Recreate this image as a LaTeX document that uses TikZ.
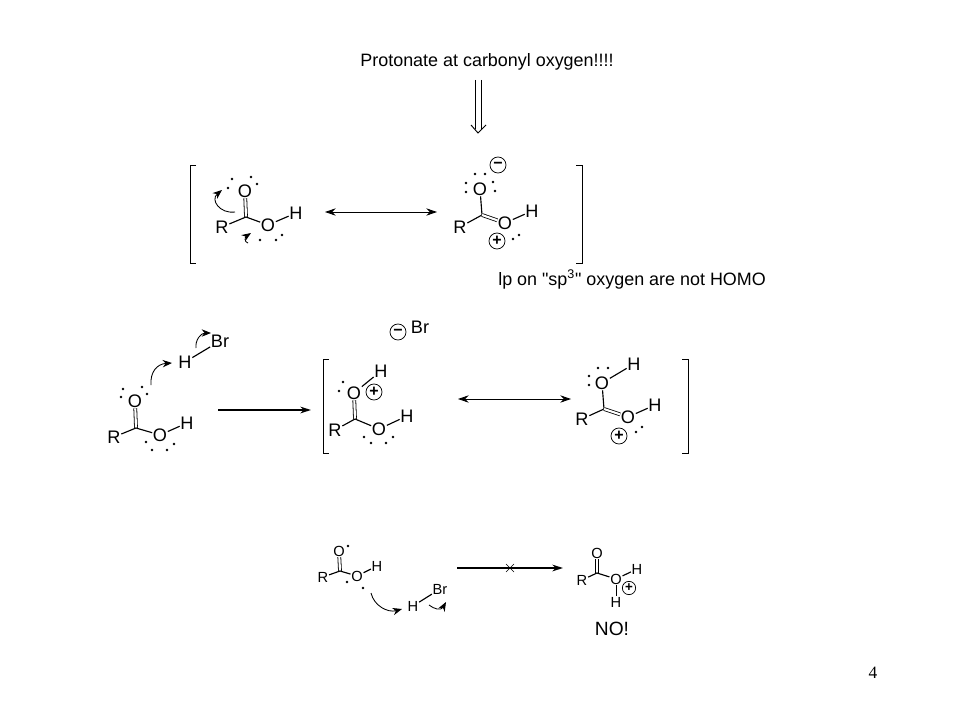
\documentclass[tikz,border=0pt]{standalone}
\usepackage{fontspec}
\setmainfont{Liberation Sans}
\newfontfamily\plainf{Liberation Sans}
\newfontfamily\numfont{Liberation Serif}
\usetikzlibrary{arrows.meta}
\tikzset{
  x=0.75pt,y=-0.75pt,
  atom/.style={font=\fontsize{13.6}{14}\selectfont,inner sep=0.4pt,text height=9.7pt,text depth=0pt},
  atomsm/.style={font=\fontsize{11}{12}\selectfont,inner sep=0.4pt,text height=7.9pt,text depth=0pt},
  bond/.style={line width=0.85pt,black},
  dbl/.style={line width=0.6pt,double,double distance=1.6pt,black},
  bracket/.style={line width=0.7pt,black},
  curly/.style={line width=0.65pt,black,-{Stealth[length=7pt,width=5.5pt]}},
  resarrow/.style={line width=0.7pt,black,{Stealth[length=8pt,width=5.5pt]}-{Stealth[length=8pt,width=5.5pt]}},
  rxnarrow/.style={line width=1.2pt,black,-{Stealth[length=8pt,width=5pt]}},
  charge/.style={draw,circle,line width=0.55pt,minimum size=12pt,inner sep=0pt,font=\fontsize{12}{12}\selectfont\bfseries},
  chargesm/.style={draw,circle,line width=0.55pt,minimum size=10pt,inner sep=0pt,font=\fontsize{10}{10}\selectfont\bfseries},
  label/.style={font=\plainf\fontsize{13.45}{15}\selectfont,inner sep=0pt},
  biglabel/.style={font=\plainf\fontsize{14.4}{16}\selectfont,inner sep=0pt},
}
\newcommand{\lpdots}[1]{\foreach \p in {#1}{\fill[black] \p circle (0.95pt);}}
\begin{document}
\begin{tikzpicture}
\useasboundingbox (0,0) rectangle (960,720);
\fill[white] (0,0) rectangle (960,720);

% title and hollow arrow
\node[label] (title) at (487,62) {Protonate at carbonyl oxygen!!!!};
\coordinate (hl1) at (475,80);
\coordinate (hl2) at (475,129);
\coordinate (hr1) at (481,80);
\coordinate (hr2) at (481,129);
\coordinate (htip) at (478,133);
\coordinate (hwl) at (471,125);
\coordinate (hwr) at (486,125);
\draw[line width=0.7pt] (hl1) -- (hl2);
\draw[line width=0.7pt] (hr1) -- (hr2);
\draw[line width=0.7pt] (hwl) -- (htip) -- (hwr);

% row 1 brackets
\draw[bracket] (196,165) -- (190,165) -- (190,263) -- (196,263);
\draw[bracket] (576,165) -- (582,165) -- (582,263) -- (576,263);

% mol A
\coordinate (ac) at (246,217);
\node[atom] (ao) at (245,191) {O};
\node[atom] (ar) at (222,227) {R};
\node[atom] (ao2) at (268,225) {O};
\node[atom] (ah) at (296,213) {H};
\draw[dbl] (ao) -- (ac);
\draw[bond] (ar) -- (ac);
\draw[bond] (ac) -- (ao2);
\draw[bond] (ao2) -- (ah);
\lpdots{(228,188),(232,179),(251,177),(257,184),(260,240),(276,240),(282,235)}
\coordinate (aa1) at (235,212);
\coordinate (aa2) at (222,190);
\draw[curly] (aa1) .. controls (220,214) and (210,200) .. (aa2);
\coordinate (aa3) at (248,243);
\coordinate (aa4) at (251,233);
\draw[curly] (aa3) .. controls (244,242) and (245,237) .. (aa4);

\draw[resarrow] (325,212) -- (437,212);

% mol B
\coordinate (bc) at (482,215);
\node[atom] (bo) at (480,189) {O};
\node[atom] (br) at (460,227) {R};
\node[atom] (bo2) at (505,223) {O};
\node[atom] (bh) at (532,211) {H};
\node[charge] (bm) at (498,165) {−};
\node[charge] (bp) at (497,241) {+};
\draw[bond] (bo) -- (bc);
\draw[bond] (br) -- (bc);
\draw[dbl] (bc) -- (bo2);
\draw[bond] (bo2) -- (bh);
\lpdots{(475,174),(485,174),(493,182),(495,191),(466,183),(466,192),(513,239),(519,235)}

\node[label,anchor=west] (lp) at (498,279) {lp on "sp\textsuperscript{3}" oxygen are not HOMO};

% row 2 left
\coordinate (dc) at (136,428);
\node[atom] (do) at (135,401) {O};
\node[atom] (dr) at (114,437) {R};
\node[atom] (do2) at (160,435) {O};
\node[atom] (dh) at (187,423) {H};
\node[atom] (dh1) at (185,362) {H};
\node[atom] (dbr) at (220,341) {Br};
\draw[dbl] (do) -- (dc);
\draw[bond] (dr) -- (dc);
\draw[bond] (dc) -- (do2);
\draw[bond] (do2) -- (dh);
\draw[bond] (dh1) -- (dbr);
\lpdots{(123,389),(121,397),(142,387),(147,394),(146,442),(152,450),(167,450),(174,444)}
\coordinate (da1) at (151,385);
\coordinate (da2) at (172,363);
\draw[curly] (da1) .. controls (150,372) and (157,364) .. (da2);
\coordinate (da3) at (196,348);
\coordinate (da4) at (211,333);
\draw[curly] (da3) .. controls (195,340) and (201,333) .. (da4);

\coordinate (ra1) at (218,410);
\coordinate (ra2) at (311,410);
\draw[rxnarrow] (ra1) -- (ra2);

\node[charge] (em) at (398,332) {−};
\node[atom] (ebr) at (420,327) {Br};

% row 2 brackets
\draw[bracket] (329,359) -- (323,359) -- (323,453) -- (329,453);
\draw[bracket] (682,359) -- (688,359) -- (688,453) -- (682,453);

% mol C
\coordinate (cc) at (355,419);
\node[atom] (co) at (354,393) {O};
\node[atom] (ch) at (381,371) {H};
\node[charge] (cp) at (374,392) {+};
\node[atom] (cr) at (335,430) {R};
\node[atom] (co2) at (379,429) {O};
\node[atom] (ch2) at (407,416) {H};
\draw[dbl] (co) -- (cc);
\draw[bond] (co) -- (ch);
\draw[bond] (cr) -- (cc);
\draw[bond] (cc) -- (co2);
\draw[bond] (co2) -- (ch2);
\lpdots{(343,382),(339,391),(364,437),(371,443),(386,443),(393,437)}

\draw[resarrow] (458,399) -- (571,399);

% mol D
\coordinate (fc) at (604,409);
\node[atom] (fo) at (602,383) {O};
\node[atom] (fh) at (634,364) {H};
\node[atom] (fr) at (582,419) {R};
\node[atom] (fo2) at (628,417) {O};
\node[atom] (fh2) at (655,405) {H};
\node[charge] (fp) at (619,436) {+};
\draw[bond] (fo) -- (fc);
\draw[bond] (fo) -- (fh);
\draw[bond] (fr) -- (fc);
\draw[dbl] (fc) -- (fo2);
\draw[bond] (fo2) -- (fh2);
\lpdots{(598,368),(608,368),(589,376),(589,385),(636,432),(642,427)}

% row 3 left
\coordinate (gc) at (340,571);
\node[atomsm] (go) at (339,551) {O};
\node[atomsm] (gr) at (323,577) {R};
\node[atomsm] (go2) at (357,576) {O};
\node[atomsm] (gh) at (377,566) {H};
\node[atomsm] (gh1) at (413,606) {H};
\node[atomsm] (gbr) at (440,589) {Br};
\draw[dbl] (go) -- (gc);
\draw[bond] (gr) -- (gc);
\draw[bond] (gc) -- (go2);
\draw[bond] (go2) -- (gh);
\draw[bond] (gh1) -- (gbr);
\lpdots{(348,546),(347,582),(363,588)}
\coordinate (ga1) at (371,593);
\coordinate (ga2) at (402,609);
\draw[curly] (ga1) .. controls (374,606) and (388,613) .. (ga2);
\coordinate (ga3) at (429,605);
\coordinate (ga4) at (446,602);
\draw[curly] (ga3) .. controls (434,609) and (441,611) .. (ga4);

\coordinate (xa1) at (457,568);
\coordinate (xa2) at (563,568);
\draw[rxnarrow] (xa1) -- (xa2);
\draw[line width=0.5pt] (506,564) -- (514,572) (514,564) -- (506,572);

% row 3 right
\coordinate (kc) at (597,573);
\node[atomsm] (ko) at (597,553) {O};
\node[atomsm] (kr) at (582,580) {R};
\node[atomsm] (ko2) at (616,579) {O};
\node[atomsm] (kh) at (637,569) {H};
\node[atomsm] (kh2) at (616,602) {H};
\node[chargesm] (kp) at (629,588) {+};
\draw[dbl] (ko) -- (kc);
\draw[bond] (kr) -- (kc);
\draw[bond] (kc) -- (ko2);
\draw[bond] (ko2) -- (kh);
\draw[line width=0.6pt] (ko2) -- (kh2);
\node[biglabel] (no) at (612,629) {NO!};

\node[inner sep=0pt,font=\numfont\fontsize{13}{14}\selectfont] (pg) at (873,673) {4};
\end{tikzpicture}
\end{document}
